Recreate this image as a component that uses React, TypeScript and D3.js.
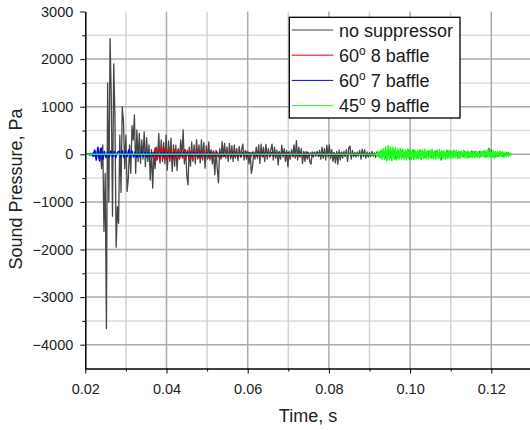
import React, { useEffect, useRef } from 'react';
import * as d3 from 'd3';

// axis ticks
const xMajorTicks = [0.02, 0.04, 0.06, 0.08, 0.1, 0.12];
const xMinorTicks = [0.03, 0.05, 0.07, 0.09, 0.11, 0.13];
const yMajorTicks = [-4000, -3000, -2000, -1000, 0, 1000, 2000, 3000];
const yMinorTicks = [-3500, -2500, -1500, -500, 500, 1500, 2500];

// no suppressor, sampled every 0.3 ms from 20.4 ms
const grayT0 = 0.0204;
const grayDt = 0.0003;
const grayValues = [
  0, 10, -15, 20, -10, 30, -40, 60, -50, 40,
  -80, 120, -300, 200, -1620, -400, -3660, 1500, -1000, 2430,
  1200, -1300, 1900, 800, -1950, -1100, -1450, 400, -800, 1000,
  700, -300, 400, -780, -500, 200, -400, 600, 300, 830,
  -400, 510, -150, 440, -190, 300, -100, 470, -260, 350,
  -150, 200, -540, 100, -710, 50, -300, 150, -100, 440,
  -180, 300, -150, 250, -200, 400, -330, 280, -150, 340,
  -360, 200, -250, 190, -340, 120, -100, 300, -50, 510,
  -200, 100, -450, -640, 150, -250, 260, -150, 200, -200,
  310, -100, 200, -180, 300, -120, 250, -290, 180, -100,
  260, -120, 100, -200, 50, -430, 80, -300, -595, 120,
  -100, 265, -50, 230, -80, 150, -150, 230, -100, 180,
  -150, 200, -80, 120, -130, 160, -60, 100, 215, -120,
  80, -100, 60, -200, 40, -400, -250, 50, -100, 150,
  -80, 200, -190, 215, -60, 150, -150, 210, -100, 120,
  -60, 100, 215, -120, 150, -80, 90, -225, 60, -100,
  190, -60, 120, -150, 80, -260, 60, -100, 100, -50,
  200, -80, 285, -120, 150, -60, 120, -190, 60, -150,
  60, -100, 40, -160, -210, 50, -60, 50, -40, 60,
  -50, 80, -100, 150, -80, 120, -120, 190, -60, 195,
  -90, 100, -150, 40, -180, 60, -210, 90, -120, 50,
  -80, 60, -50, 100, -150, 130, 175, -100, 80, -50,
  40, -60, 50, -40, 80, -100, 110, -50, 100, -80,
  50, -60, 40, -50, 60, -40, 30, -70, 50, -40,
  40, -60, 70, -50, 30, -80, 60, -40, 50, -70,
  60, -50, 80, -90, 40, -60, 50, -40, 70, -50,
  30, -70, 60, -50, 90, -100, 60, -40, 80, -60,
  40, -80, 60, -50, 70, -40, 50, -60, 30, -50,
  60, -40, 50, -70, 40, -50, 60, -30, 50, -60,
  40, -120, 50, -60, 40, -50, 70, -40, 60, -50,
  50, -40, 60, -50, 40, -60, 50, -30, 40, -50,
  60, -40, 50, -60, 30, -50, 70, -40, 50, -30,
  40, -50, 60, -40, 50, -30, 60, -50, 40, -40,
  126, -40, 90, -50, 40, -60, 30, -40, 30, -20,
  30, -40, 20, -30, 40, -20, 30, -10, 20,
];

// 60° 8 baffle, every 0.4 ms from 36.4 ms
const redT0 = 0.0364;
const redDt = 0.0004;
const redValues = [
  40, -90, 130, -120, 100, -133, 140, -80, 120, -110,
  90, -100, 70, -95, 100, -60, 85, -90, 60, -80,
  95, -70, 80, -90, 60, -100, 75, -60, 90, -70,
  60, -80, 70, -50, 65, -75, 55, -60, 70, -45,
  60, -55, 45, -65, 50, -40, 60, -55, 40, -50,
  55, -45, 50, -60, 35, -50, 45, -40, 55, -45,
  40, -50, 45, -35, 50, -45, 30, -40, 45, -50,
  40, -35, 45, -40, 30, -45, 40, -30, 35, -40,
  45, -30, 40, -50, 35, -40, 30, -45, 40, -35,
  30, -40, 35, -45, 30, -55, 40, -35, 25, -40,
  30, -25, 35, -30, 25, -35, 20, -30, 25, -20,
  25, -30, 20, -25, 30, -20, 25, -15, 20, -25,
  15, -20, 20, -15, 10, -20, 15, -10, 15, -15,
  10, -10, 8, -8, 5, 0,
];

// 60° 7 baffle, every 0.4 ms from 20.3 ms
const blueT0 = 0.0203;
const blueDt = 0.0004;
const blueValues = [
  0, 8, -10, 15, -40, 90, -120, 147, -140, 130,
  -110, 60, -70, 50, -60, 70, -50, 60, -70, 40,
  60, -50, 75, -60, 55, -45, 90, -63, 70, -55,
  50, -60, 40, -50, 55, -45, 40, -50, 35, -45,
  40, -35, 45, -40, 30, -45, 40, -35, 50, -40,
  35, -40, 30, -45, 40, -30, 35, -40, 30, -35,
  40, -30, 35, -45, 30, -35, 40, -30, 35, -40,
  30, -35, 25, -40, 30, -30, 35, -25, 30, -35,
  25, -30, 35, -25, 30, -35, 25, -30, 20, -30,
  30, -25, 25, -30, 20, -35, 30, -25, 25, -30,
  25, -20, 30, -25, 20, -30, 25, -20, 30, -25,
  20, -25, 25, -20, 30, -25, 20, -20, 25, -30,
  25, -20, 20, -25, 30, -20, 25, -25, 20, -20,
  20, -25, 25, -20, 20, -30, 25, -20, 20, -25,
  20, -15, 25, -20, 15, -20, 20, -15, 20, -20,
  15, -20, 20, -15, 15, -20, 15, -15, 20, -15,
  15, -10, 15, -15, 10, -15, 10, -10, 15, -10,
  10, -10, 8, -8, 6, -5, 3, 0,
];

// 45° 9 baffle: quiet until 91.6 ms, then every 0.3 ms
const greenQuietStart = 0.0202;
const greenT0 = 0.0916;
const greenDt = 0.0003;
const greenValues = [
  20, -40, 60, -70, 90, -100, 120, -110, 150, -140,
  180, -120, 160, -130, 140, -110, 130, -120, 110, -100,
  120, -90, 110, -100, 90, -120, 100, -80, 110, -100,
  100, -110, 90, -100, 80, -90, 100, -110, 90, -80,
  100, -90, 80, -100, 90, -80, 100, -90, 70, -100,
  90, -80, 100, -110, 80, -90, 70, -100, 90, -80,
  80, -90, 70, -80, 90, -70, 80, -90, 60, -80,
  70, -60, 80, -70, 60, -80, 70, -60, 50, -70,
  60, -70, 70, -60, 50, -70, 60, -50, 70, -60,
  80, -60, 100, -70, 90, -60, 70, -80, 60, -50,
  60, -50, 70, -40, 50, -60, 40, -50, 30, -40,
  20, -10, 0,
];

const seriesNames = ['no suppressor', '8 baffle', '7 baffle', '9 baffle'];
const seriesAngles = ['', '60', '60', '45'];
const seriesColors = ['#474747', '#ff0000', '#0000ff', '#1eff1e'];
const seriesWidths = [1.3, 1.6, 1.6, 1.6];

const toPoints = (t0: number, dt: number, values: number[]): [number, number][] =>
  values.map((v, i) => [t0 + i * dt, v]);

const App = () => {
  const ref = useRef<SVGSVGElement>(null);

  useEffect(() => {
    const width = 530;
    const font = "Arial, 'Liberation Sans', Helvetica, sans-serif";

    const svg = d3.select(ref.current);
    svg.selectAll('*').remove();

    const x = d3.scaleLinear().domain([0.02, 0.13]).range([85.3, 531.9]);
    const y = d3.scaleLinear().domain([-4500, 3000]).range([368.5, 11.5]);

    // grid
    const grid = svg.append('g');
    grid.append('g').selectAll('line')
      .data(yMinorTicks)
      .join('line')
      .attr('x1', x(0.02)).attr('x2', width)
      .attr('y1', d => y(d)).attr('y2', d => y(d))
      .attr('stroke', '#dcdcdc').attr('stroke-width', 1.5);
    grid.append('g').selectAll('line')
      .data(xMinorTicks)
      .join('line')
      .attr('x1', d => x(d)).attr('x2', d => x(d))
      .attr('y1', y(3000)).attr('y2', y(-4500))
      .attr('stroke', '#d4d4d4').attr('stroke-width', 1.5);
    grid.append('g').selectAll('line')
      .data(yMajorTicks.filter(d => d < 3000))
      .join('line')
      .attr('x1', x(0.02)).attr('x2', width)
      .attr('y1', d => y(d)).attr('y2', d => y(d))
      .attr('stroke', '#ababab').attr('stroke-width', 1.5);
    grid.append('g').selectAll('line')
      .data(xMajorTicks.filter(d => d > 0.02))
      .join('line')
      .attr('x1', d => x(d)).attr('x2', d => x(d))
      .attr('y1', y(3000)).attr('y2', y(-4500))
      .attr('stroke', '#ababab').attr('stroke-width', 1.5);

    // traces
    const line = d3.line<[number, number]>()
      .x(d => x(d[0]))
      .y(d => y(d[1]));

    const traces: [number, number][][] = [
      toPoints(grayT0, grayDt, grayValues),
      toPoints(redT0, redDt, redValues),
      toPoints(blueT0, blueDt, blueValues),
      [[greenQuietStart, 0], [greenT0, 0], ...toPoints(greenT0, greenDt, greenValues)],
    ];

    svg.append('g')
      .selectAll('path')
      .data(traces)
      .join('path')
      .attr('d', d => line(d))
      .attr('fill', 'none')
      .attr('stroke', (_, i) => seriesColors[i])
      .attr('stroke-width', (_, i) => seriesWidths[i])
      .attr('stroke-linejoin', 'round');

    // axes
    const yAxis = svg.append('g')
      .attr('transform', `translate(${x(0.02)},0)`)
      .call(d3.axisLeft(y).tickValues(yMajorTicks).tickSize(5).tickPadding(7)
        .tickSizeOuter(0).tickFormat(d3.format('d')));
    svg.append('g')
      .attr('transform', `translate(${x(0.02)},0)`)
      .call(d3.axisLeft(y).tickValues(yMinorTicks).tickSize(3).tickFormat(() => ''))
      .call(g => g.select('.domain').remove());

    const xAxis = svg.append('g')
      .attr('transform', `translate(0,${y(-4500)})`)
      .call(d3.axisBottom(x).tickValues(xMajorTicks).tickSize(5).tickPadding(10)
        .tickSizeOuter(0).tickFormat(d3.format('.2f')));
    svg.append('g')
      .attr('transform', `translate(0,${y(-4500)})`)
      .call(d3.axisBottom(x).tickValues(xMinorTicks).tickSize(3).tickFormat(() => ''))
      .call(g => g.select('.domain').remove());

    [yAxis, xAxis].forEach(g => {
      g.attr('font-size', 14.5).attr('font-family', font);
      g.selectAll('text').attr('fill', '#222');
      g.select('.domain').attr('stroke-width', 1.5);
    });

    // axis titles
    svg.append('text')
      .attr('x', 308).attr('y', 421.5)
      .attr('text-anchor', 'middle')
      .attr('font-family', font).attr('font-size', 18).attr('fill', '#222')
      .text('Time, s');
    svg.append('text')
      .attr('transform', 'translate(21.5,189) rotate(-90)')
      .attr('text-anchor', 'middle')
      .attr('font-family', font).attr('font-size', 18).attr('fill', '#222')
      .text('Sound Pressure, Pa');

    // legend
    const legend = svg.append('g').attr('font-family', font).attr('font-size', 18);
    legend.append('rect')
      .attr('x', 289.3).attr('y', 17.3).attr('width', 170.7).attr('height', 100.7)
      .attr('fill', '#fff').attr('stroke', '#000').attr('stroke-width', 1.3);
    const rows = legend.selectAll('g.row')
      .data(seriesNames)
      .join('g')
      .attr('class', 'row')
      .attr('transform', (_, i) => `translate(0,${30 + i * 25.2})`);
    rows.append('line')
      .attr('x1', 291.7).attr('x2', 333.3)
      .attr('stroke', (_, i) => seriesColors[i]).attr('stroke-width', 1);
    const label = rows.append('text')
      .attr('x', 339).attr('y', 6.5)
      .attr('fill', '#1a1a1a');
    label.each(function (name, i) {
      const t = d3.select(this);
      if (!seriesAngles[i]) {
        t.text(name);
        return;
      }
      t.append('tspan').text(seriesAngles[i]);
      t.append('tspan').attr('font-size', 12).attr('dy', -7).text('o');
      t.append('tspan').attr('dy', 7).text(' ' + name);
    });
  }, []);

  return (
    <svg ref={ref} width={530} height={430}
      style={{ position: 'absolute', left: 0, top: 0, background: '#fff' }} />
  );
};

export default App;
